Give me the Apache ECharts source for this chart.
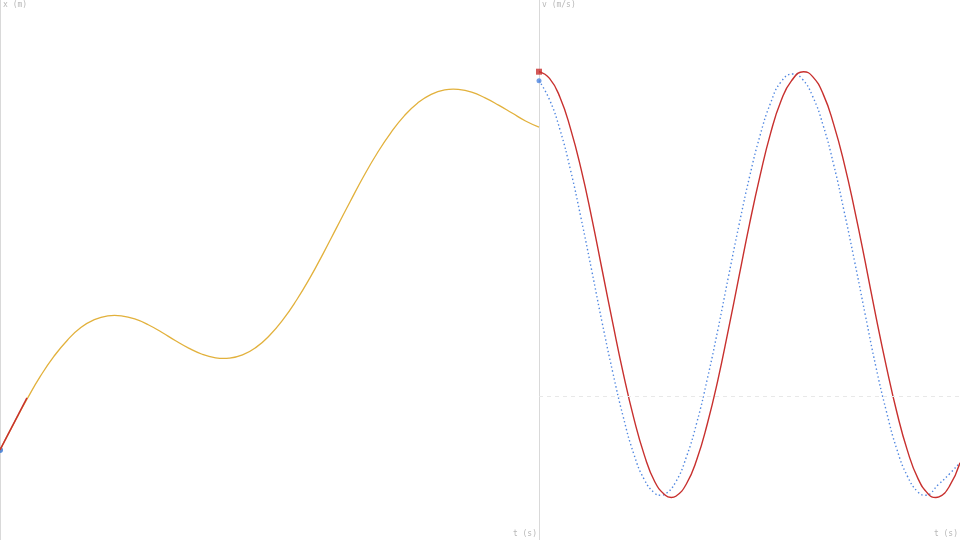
<!DOCTYPE html>
<html lang="en">
<head>
<meta charset="utf-8">
<title>x(t) and v(t)</title>
<script src="https://cdn.jsdelivr.net/npm/echarts@6/dist/echarts.min.js"></script>
<style>
  html, body { margin: 0; padding: 0; background: #fff; }
  #chart { width: 960px; height: 540px; }
</style>
</head>
<body>
<div id="chart"></div>
<script>
// position x (m) against time (s) (turning points included)
var xT = [0, 0.25, 0.5, 0.75, 1, 1.25, 1.5, 1.75, 2, 2.125, 2.25, 2.5, 2.75, 3, 3.25, 3.5, 3.75,
          4, 4.158, 4.25, 4.5, 4.75, 5, 5.25, 5.5, 5.75, 6, 6.25, 6.5, 6.75, 7, 7.25, 7.5, 7.75,
          8, 8.25, 8.408, 8.5, 8.75, 9, 9.25, 9.5, 9.75, 10];
var xVals = [0, 0.72, 1.41, 2.05, 2.60, 3.05, 3.40, 3.62, 3.728, 3.741, 3.728, 3.64, 3.48, 3.27, 3.04, 2.83, 2.66,
             2.562, 2.543, 2.550, 2.64, 2.85, 3.18, 3.62, 4.16, 4.78, 5.47, 6.19, 6.91, 7.61, 8.25, 8.81, 9.28, 9.64,
             9.88, 10.003, 10.024, 10.017, 9.94, 9.78, 9.58, 9.36, 9.14, 8.97];

// velocity v (m/s), red solid curve
var vT = [0, 0.25, 0.5, 0.75, 1, 1.25, 1.5, 1.75, 2, 2.25, 2.5, 2.75, 3, 3.1416, 3.25, 3.5, 3.75,
          4, 4.25, 4.5, 4.75, 5, 5.25, 5.5, 5.75, 6, 6.2832, 6.5, 6.75, 7, 7.25, 7.5, 7.75,
          8, 8.25, 8.5, 8.75, 9, 9.25, 9.4248, 9.5, 9.75, 10];
var vVals = [2.90, 2.84, 2.67, 2.39, 2.03, 1.60, 1.13, 0.66, 0.21, -0.19, -0.52, -0.76, -0.881, -0.90, -0.889, -0.78, -0.56,
             -0.24, 0.15, 0.60, 1.07, 1.54, 1.97, 2.35, 2.64, 2.82, 2.90, 2.856, 2.70, 2.43, 2.08, 1.66, 1.20,
             0.72, 0.27, -0.14, -0.48, -0.73, -0.871, -0.90, -0.895, -0.80, -0.59];

// estimated velocity (m/s), blue dotted curve
var vEstT = [0, 0.25, 0.5, 0.75, 1, 1.25, 1.5, 1.75, 2, 2.25, 2.5, 2.75, 2.8916, 3, 3.25, 3.5, 3.75,
             4, 4.25, 4.5, 4.75, 5, 5.25, 5.5, 5.75, 6.0332, 6.25, 6.5, 6.75, 7, 7.25, 7.5, 7.75,
             8, 8.25, 8.5, 8.75, 9, 9.175, 9.5, 9.75, 10];
var vEstVals = [2.82, 2.65, 2.38, 2.02, 1.59, 1.13, 0.66, 0.22, -0.18, -0.51, -0.74, -0.862, -0.880, -0.869, -0.76, -0.54, -0.23,
                0.16, 0.60, 1.07, 1.53, 1.96, 2.33, 2.62, 2.81, 2.880, 2.836, 2.68, 2.42, 2.07, 1.65, 1.20, 0.73,
                0.27, -0.13, -0.47, -0.71, -0.852, -0.880, -0.78, -0.69, -0.59];

// tangent segment at t = 0 on the x plot
var tangentT = [0, 0.5];
var tangentX = [0, 1.45];
// current-time markers
var markT = 0;
var markX = 0;
var markV = 2.90;
var markVEst = 2.82;

var RED = '#c8302e';
var GOLD = '#e2b13c';
var BLUE = '#4f86e0';
var AXIS = '#d9d9d9';
var LABEL = '#b8b8b8';

function pairs(ts, ys) {
  return ts.map(function (t, i) { return [t, ys[i]]; });
}

var chart = echarts.init(document.getElementById('chart'));

var hiddenX = {
  type: 'value', min: 0, max: 10,
  axisLine: { show: false }, axisTick: { show: false },
  axisLabel: { show: false }, splitLine: { show: false }
};
function yAxis(idx, min, max) {
  return {
    type: 'value', gridIndex: idx, min: min, max: max,
    axisLine: { show: true, onZero: false, lineStyle: { color: AXIS, width: 1 } },
    axisTick: { show: false }, axisLabel: { show: false }, splitLine: { show: false }
  };
}
var txt = { fontFamily: 'DejaVu Sans Mono', fontSize: 8, fontWeight: 'normal', color: LABEL };

chart.setOption({
  animation: false,
  backgroundColor: '#ffffff',
  title: [
    { text: 'x (m)', left: 3, top: 1, textStyle: txt, padding: 0 },
    { text: 'v (m/s)', left: 542, top: 1, textStyle: txt, padding: 0 },
    { text: 't (s)', right: 423, bottom: 2, textStyle: txt, padding: 0 },
    { text: 't (s)', right: 2, bottom: 2, textStyle: txt, padding: 0 }
  ],
  grid: [
    { left: 0, top: 0, width: 539, bottom: 0 },
    { left: 539, top: 0, right: 0, bottom: 0 }
  ],
  xAxis: [
    Object.assign({ gridIndex: 0 }, hiddenX),
    Object.assign({ gridIndex: 1 }, hiddenX)
  ],
  yAxis: [
    yAxis(0, -2.5, 12.5),
    yAxis(1, -1.28, 3.54)
  ],
  series: [
    {
      name: 'x', type: 'line', xAxisIndex: 0, yAxisIndex: 0,
      data: pairs(xT, xVals), smooth: true, showSymbol: false,
      lineStyle: { color: GOLD, width: 1.3 }
    },
    {
      name: 'tangent', type: 'line', xAxisIndex: 0, yAxisIndex: 0,
      data: pairs(tangentT, tangentX), showSymbol: false,
      lineStyle: { color: RED, width: 1.5 }
    },
    {
      name: 'x now', type: 'scatter', xAxisIndex: 0, yAxisIndex: 0,
      data: [[markT, markX]], symbol: 'circle', symbolSize: 6,
      itemStyle: { color: '#2f6fd0' }
    },
    {
      name: 'v est', type: 'line', xAxisIndex: 1, yAxisIndex: 1,
      data: pairs(vEstT, vEstVals), smooth: true, showSymbol: false,
      lineStyle: { color: BLUE, width: 1.4, type: [1.4, 2.6] },
      markLine: {
        silent: true, symbol: 'none', label: { show: false },
        lineStyle: { color: '#e8e8e8', width: 1, type: [4, 4] },
        data: [{ yAxis: 0 }]
      }
    },
    {
      name: 'v', type: 'line', xAxisIndex: 1, yAxisIndex: 1,
      data: pairs(vT, vVals), smooth: true, showSymbol: false,
      lineStyle: { color: RED, width: 1.4 }
    },
    {
      name: 'v est now', type: 'scatter', xAxisIndex: 1, yAxisIndex: 1,
      data: [[markT, markVEst]], symbol: 'circle', symbolSize: 5,
      itemStyle: { color: BLUE }
    },
    {
      name: 'v now', type: 'scatter', xAxisIndex: 1, yAxisIndex: 1,
      data: [[markT, markV]], symbol: 'rect', symbolSize: 6,
      itemStyle: { color: RED }
    }
  ]
});
</script>
</body>
</html>
